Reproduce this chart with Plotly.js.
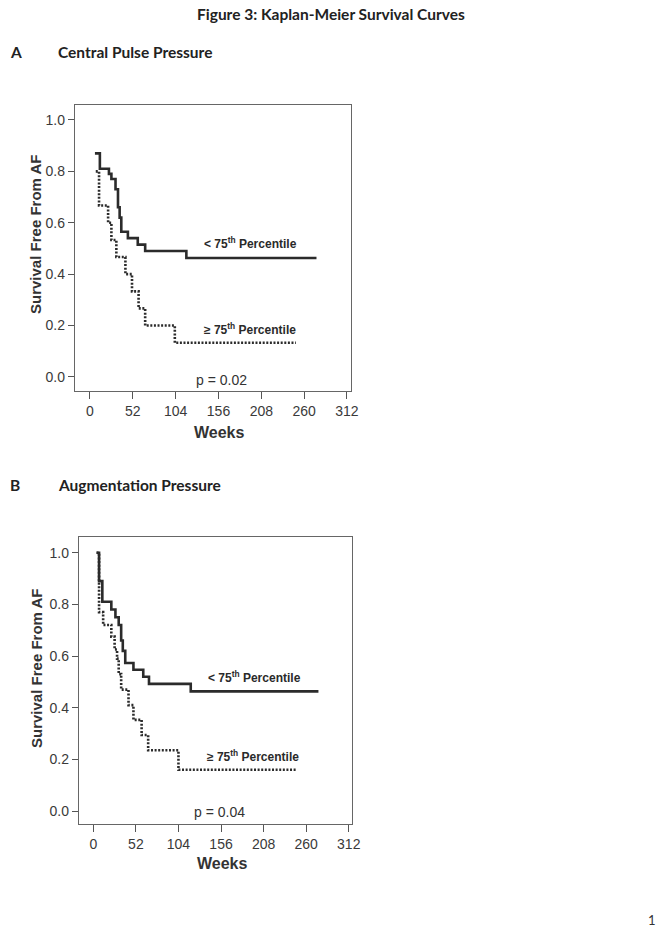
<!DOCTYPE html>
<html>
<head>
<meta charset="utf-8">
<script src="https://cdn.plot.ly/plotly-3.0.1.min.js"></script>
<style>
html,body{margin:0;padding:0;background:#fff;}
#chart{width:661px;height:936px;}
</style>
</head>
<body>
<div id="chart"></div>
<script>
// ---- Data ----
// Panel A: Central Pulse Pressure
const weeksA_low  = [6, 12, 23, 26, 31, 34, 36, 38, 46, 58, 67, 117, 275];
const survA_low   = [0.87, 0.81, 0.79, 0.77, 0.73, 0.66, 0.62, 0.565, 0.54, 0.515, 0.49, 0.463, 0.463];
const weeksA_high = [7, 11, 22, 26, 32, 43, 51, 59, 67, 103, 250];
const survA_high  = [0.80, 0.667, 0.60, 0.533, 0.467, 0.40, 0.333, 0.267, 0.20, 0.133, 0.133];

// Panel B: Augmentation Pressure
const weeksB_low  = [4, 7, 11, 22, 27, 31, 34, 36, 39, 49, 61, 68, 119, 275];
const survB_low   = [1.0, 0.89, 0.81, 0.78, 0.75, 0.72, 0.66, 0.62, 0.573, 0.547, 0.52, 0.492, 0.463, 0.463];
const weeksB_high = [4, 7, 12, 22, 26, 29, 31, 34, 43, 49, 59, 67, 104, 249];
const survB_high  = [1.0, 0.77, 0.72, 0.675, 0.625, 0.59, 0.53, 0.47, 0.41, 0.353, 0.294, 0.235, 0.16, 0.16];

const xTicks = [0, 52, 104, 156, 208, 260, 312];
const yTicks = [0.0, 0.2, 0.4, 0.6, 0.8, 1.0];

const labelLow  = "< 75<sup>th</sup> Percentile";
const labelHigh = "\u2265 75<sup>th</sup> Percentile";
const pA = "p = 0.02";
const pB = "p = 0.04";

// ---- Figure ----
const W = 661, H = 936;
const px = v => v / W;
const py = v => 1 - v / H;

const lineCol = "#2b2b2b";
function curve(x, y, dotted, xa, ya) {
  return {
    x: x, y: y, xaxis: xa, yaxis: ya, type: "scatter", mode: "lines",
    line: {shape: "hv", color: lineCol, width: 2.6, dash: dotted ? "2px,1.6px" : "solid"},
    hoverinfo: "skip", showlegend: false
  };
}

const data = [
  curve(weeksA_low, survA_low, false, "x", "y"),
  curve(weeksA_high, survA_high, true, "x", "y"),
  curve(weeksB_low, survB_low, false, "x2", "y2"),
  curve(weeksB_high, survB_high, true, "x2", "y2")
];

const tickFont = {family: "Liberation Sans, Arial, sans-serif", size: 14, color: "#3a3a3a"};
function xAxis(domain, range) {
  return {
    domain: domain, range: range, tickvals: xTicks, ticktext: xTicks.map(String),
    ticks: "outside", ticklen: 7, tickwidth: 1, tickcolor: "#555",
    showline: true, linecolor: "#666", linewidth: 1.2, mirror: true,
    showgrid: false, zeroline: false, tickfont: tickFont, fixedrange: true
  };
}
function yAxis(domain, range) {
  return {
    domain: domain, range: range, tickvals: yTicks, ticktext: yTicks.map(v => v.toFixed(1)),
    ticks: "outside", ticklen: 6, tickwidth: 1, tickcolor: "#555",
    showline: true, linecolor: "#666", linewidth: 1.2, mirror: true,
    showgrid: false, zeroline: false, tickfont: tickFont, fixedrange: true
  };
}

const hFont = {family: "Lato, Open Sans, sans-serif", size: 15.5, color: "#222"};
const labFont = {family: "Liberation Sans, Arial, sans-serif", size: 12, color: "#2a2a2a"};
const axTitleFont = {family: "Liberation Sans, Arial, sans-serif", size: 15, color: "#333"};
const weeksFont = {family: "Liberation Sans, Arial, sans-serif", size: 16, color: "#333"};
const pFont = {family: "Liberation Sans, Arial, sans-serif", size: 14, color: "#333"};

function ann(text, x, y, xref, yref, font, xanchor, extra) {
  return Object.assign({text: text, x: x, y: y, xref: xref, yref: yref, font: font,
    xanchor: xanchor || "center", yanchor: "middle", showarrow: false}, extra || {});
}

const annotations = [
  ann("<b>Figure 3: Kaplan-Meier Survival Curves</b>", px(331), py(14), "paper", "paper", hFont),
  ann("<b>A</b>", px(8), py(52), "paper", "paper", hFont, "left"),
  ann("<b>Central Pulse Pressure</b>", px(56), py(52), "paper", "paper", hFont, "left"),
  ann("<b>B</b>", px(8), py(485), "paper", "paper", hFont, "left"),
  ann("<b>Augmentation Pressure</b>", px(56), py(485), "paper", "paper", hFont, "left"),
  ann("1", px(652), py(920), "paper", "paper", {family: "Lato, sans-serif", size: 13, color: "#333"}),

  // Panel A
  ann("<b>Survival Free From AF</b>", px(35), py(234), "paper", "paper", axTitleFont, "center", {textangle: -90}),
  ann("<b>Weeks</b>", px(219), py(432), "paper", "paper", weeksFont),
  ann("<b>" + labelLow + "</b>", 135.5, 0.52, "x", "y", labFont, "left"),
  ann("<b>" + labelHigh + "</b>", 136, 0.185, "x", "y", labFont, "left"),
  ann(pA, 160, -0.012, "x", "y", pFont),

  // Panel B
  ann("<b>Survival Free From AF</b>", px(36), py(668), "paper", "paper", axTitleFont, "center", {textangle: -90}),
  ann("<b>Weeks</b>", px(222), py(863), "paper", "paper", weeksFont),
  ann("<b>" + labelLow + "</b>", 137.5, 0.52, "x2", "y2", labFont, "left"),
  ann("<b>" + labelHigh + "</b>", 136, 0.213, "x2", "y2", labFont, "left"),
  ann(pB, 154, -0.003, "x2", "y2", pFont)
];

const layout = {
  width: W, height: H,
  margin: {l: 0, r: 0, t: 0, b: 0},
  paper_bgcolor: "#fff", plot_bgcolor: "#fff",
  showlegend: false,
  xaxis: xAxis([px(75), px(351)], [-18.2, 316.9]),
  yaxis: yAxis([py(391), py(105)], [-0.0545, 1.058]),
  xaxis2: Object.assign(xAxis([px(79), px(352)], [-17.5, 316.0]), {anchor: "y2"}),
  yaxis2: Object.assign(yAxis([py(824), py(537)], [-0.0503, 1.0608]), {anchor: "x2"}),
  annotations: annotations
};
layout.xaxis.anchor = "y";
layout.yaxis.anchor = "x";

Plotly.newPlot("chart", data, layout, {displayModeBar: false, staticPlot: true});
</script>
</body>
</html>
